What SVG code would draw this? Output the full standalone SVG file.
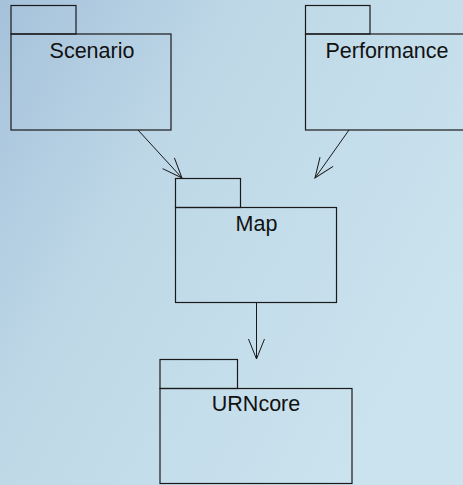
<svg xmlns="http://www.w3.org/2000/svg" width="463" height="485" viewBox="0 0 463 485">
  <defs>
    <linearGradient id="bg" x1="0" y1="0" x2="1" y2="0.6">
      <stop offset="0" stop-color="#a6c2db"/>
      <stop offset="0.4" stop-color="#bed8e7"/>
      <stop offset="1" stop-color="#cbe3ee"/>
    </linearGradient>
    <marker id="open-arrow" markerUnits="userSpaceOnUse" markerWidth="24" markerHeight="20" refX="21" refY="9" orient="auto" viewBox="0 0 24 20">
      <path d="M1,1 L21,9 L1,17" fill="none" stroke="#1a1a1a" stroke-width="1"/>
    </marker>
  </defs>
  <style>
    .pkg { fill: none; stroke: #1a1a1a; stroke-width: 1.2; }
    .label { font-family: "Liberation Sans", Arial, sans-serif; font-size: 21.5px; fill: #111; text-anchor: middle; }
    .dep { fill: none; stroke: #1a1a1a; stroke-width: 1; marker-end: url(#open-arrow); }
  </style>

  <rect width="463" height="485" fill="url(#bg)"/>

  <g id="scenario">
    <rect class="pkg" x="11" y="5.5" width="65" height="28.5"/>
    <rect class="pkg" x="11" y="34" width="160" height="96"/>
    <text class="label" x="92" y="58">Scenario</text>
  </g>

  <g id="performance">
    <rect class="pkg" x="305.5" y="5.5" width="64.5" height="28.5"/>
    <rect class="pkg" x="305.5" y="34" width="170" height="96"/>
    <text class="label" x="387" y="58">Performance</text>
  </g>

  <g id="map">
    <rect class="pkg" x="175.5" y="178.5" width="65" height="29"/>
    <rect class="pkg" x="175.5" y="207.5" width="161" height="95"/>
    <text class="label" x="256.5" y="231">Map</text>
  </g>

  <g id="urncore">
    <rect class="pkg" x="160" y="359.5" width="77.5" height="29"/>
    <rect class="pkg" x="160" y="388.5" width="192" height="95"/>
    <text class="label" x="256" y="411">URNcore</text>
  </g>

  <g id="connectors">
    <line class="dep" x1="138" y1="130" x2="182" y2="178"/>
    <line class="dep" x1="349" y1="130" x2="315" y2="178"/>
    <line class="dep" x1="256.5" y1="302.5" x2="256.5" y2="359"/>
  </g>
</svg>
